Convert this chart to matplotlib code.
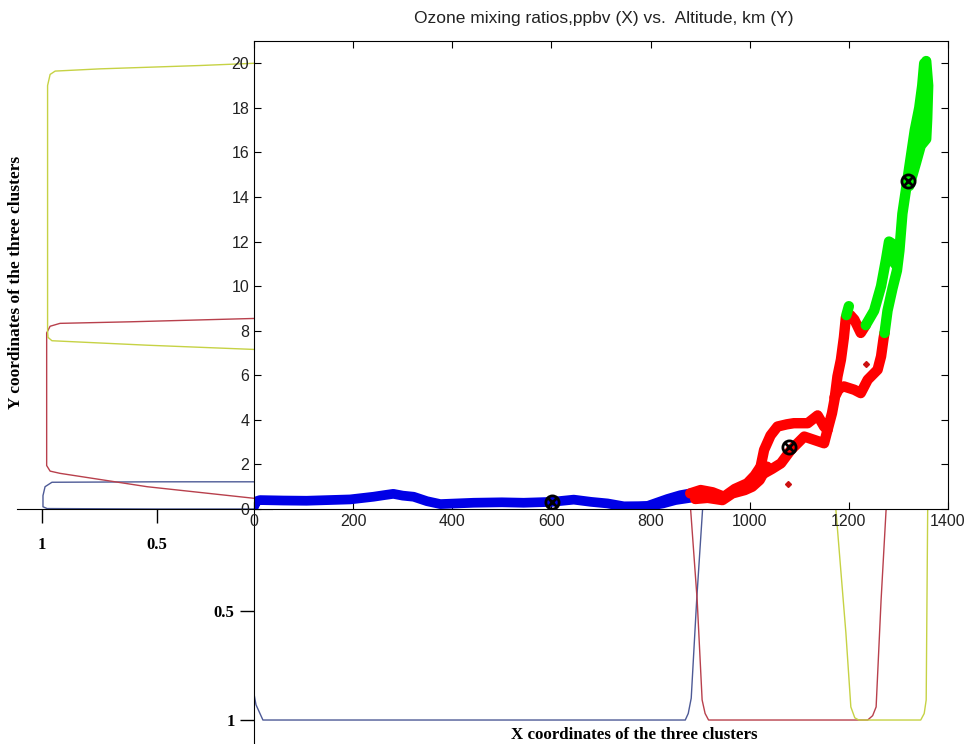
import numpy as np
import matplotlib
matplotlib.use("Agg")
import matplotlib.pyplot as plt

# ---- scatter clusters (ozone ppbv, altitude km) ----
blue_x = [0, 5, 12, 60, 106, 150, 194, 241, 262, 281, 300, 322, 349, 376, 443, 500, 544, 601, 645, 680, 713, 746, 793, 834, 860, 885]
blue_y = [0.1, 0.35, 0.4, 0.38, 0.37, 0.4, 0.43, 0.55, 0.62, 0.68, 0.6, 0.55, 0.35, 0.22, 0.28, 0.3, 0.28, 0.32, 0.42, 0.32, 0.25, 0.12, 0.13, 0.45, 0.62, 0.72]
blue2_x = [770, 800, 825, 850, 880]
blue2_y = [0.08, 0.15, 0.25, 0.4, 0.5]

red1_x = [880, 901, 925, 948, 970, 995, 1010, 1022, 1029, 1042, 1056, 1075, 1089, 1117, 1137, 1150, 1157, 1166, 1171, 1177, 1184, 1190, 1194, 1203, 1211, 1224, 1234]
red1_y = [0.7, 0.85, 0.75, 0.55, 0.9, 1.15, 1.5, 1.9, 2.65, 3.3, 3.7, 3.8, 3.85, 3.85, 4.2, 3.7, 3.55, 4.3, 4.9, 5.95, 6.7, 7.7, 8.6, 8.7, 8.5, 7.9, 8.25]
red2_x = [1022, 1029, 1045, 1063, 1083, 1110, 1130, 1150, 1157]
red2_y = [1.9, 1.6, 1.8, 2.05, 2.65, 3.25, 3.1, 2.95, 3.55]
red3_x = [1171, 1180, 1190, 1211, 1224, 1238, 1258, 1265, 1270, 1272]
red3_y = [5.0, 5.4, 5.5, 5.35, 5.2, 5.8, 6.25, 6.85, 7.65, 7.9]
red4_x = [890, 915, 945, 965, 990, 1005, 1020, 1035]
red4_y = [0.45, 0.5, 0.4, 0.7, 0.85, 1.0, 1.3, 1.9]
red_out_x = [1077, 1234]
red_out_y = [1.1, 6.5]

green1_x = [1234, 1251, 1265, 1275, 1281, 1288, 1293]
green1_y = [8.25, 8.9, 10.0, 11.2, 12.0, 11.9, 11.0]
green2_x = [1272, 1278, 1288, 1297, 1302, 1308, 1318, 1325, 1333, 1342, 1348, 1352]
green2_y = [7.9, 8.9, 9.9, 10.7, 11.6, 13.25, 14.75, 15.8, 17.0, 18.0, 19.0, 20.0]
green3_x = [1322, 1335, 1345, 1356, 1358, 1360, 1356]
green3_y = [14.5, 15.5, 16.3, 16.6, 17.5, 19.0, 20.1]
green4_x = [1195, 1200]
green4_y = [8.7, 9.1]
green5_x = [1328, 1340, 1350, 1354]
green5_y = [16.0, 17.0, 18.0, 19.5]

cent_x = [601, 1080, 1320]
cent_y = [0.32, 2.77, 14.7]

# ---- membership curves along Y (membership, altitude) ----
mblue_y_m = [0.0, 0.078, 0.5, 0.957, 0.987, 0.996, 0.996, 0.978, 0.5, 0.0]
mblue_y_v = [1.22, 1.22, 1.22, 1.2, 1.0, 0.6, 0.1, 0.02, 0.0, 0.0]
mred_y_m = [0.0, 0.078, 0.543, 0.922, 0.965, 0.98, 0.98, 0.965, 0.922, 0.617, 0.078, 0.0]
mred_y_v = [0.35, 0.48, 1.0, 1.6, 1.7, 1.95, 7.9, 8.2, 8.33, 8.4, 8.55, 8.6]
mylw_y_m = [0.0, 0.078, 0.543, 0.957, 0.974, 0.976, 0.976, 0.965, 0.943, 0.748, 0.313, 0.078, 0.0]
mylw_y_v = [7.1, 7.16, 7.35, 7.55, 7.7, 8.0, 19.0, 19.5, 19.65, 19.75, 19.9, 20.0, 20.05]

# ---- membership curves along X (ozone, membership) ----
mblue_x_o = [0, 4, 18, 870, 876, 882, 893, 905, 910]
mblue_x_v = [0.88, 0.93, 1.0, 1.0, 0.97, 0.9, 0.45, 0.03, 0.0]
mred_x_o = [879, 881, 894, 904, 910, 917, 1100, 1238, 1248, 1255, 1265, 1275, 1277]
mred_x_v = [0.0, 0.04, 0.45, 0.908, 0.97, 1.0, 1.0, 1.0, 0.98, 0.94, 0.45, 0.04, 0.0]
mylw_x_o = [1172, 1174, 1194, 1204, 1212, 1220, 1345, 1352, 1356, 1359, 1360]
mylw_x_v = [0.0, 0.04, 0.6, 0.94, 0.99, 1.0, 1.0, 0.97, 0.908, 0.04, 0.0]

W, H = 967, 744
def rect(x0, y0, x1, y1):
    return [x0 / W, 1 - y1 / H, (x1 - x0) / W, (y1 - y0) / H]

serif_bold = dict(family=["Liberation Serif", "DejaVu Serif"], weight="bold")
sans = ["Liberation Sans", "DejaVu Sans"]

fig = plt.figure(figsize=(9.67, 7.44), dpi=100)

c_blue_m = "#4d5a96"
c_red_m = "#b8404c"
c_ylw_m = "#c6d244"

# left panel: membership of Y
axl = fig.add_axes(rect(17, 41, 272, 509))
axl.set_facecolor("none")
axl.plot(mblue_y_m, mblue_y_v, color=c_blue_m, lw=1)
axl.plot(mred_y_m, mred_y_v, color=c_red_m, lw=1)
axl.plot(mylw_y_m, mylw_y_v, color=c_ylw_m, lw=1)
axl.set_xlim(1.109, 0)
axl.set_ylim(0, 21)
for s in ["top", "right", "left"]:
    axl.spines[s].set_visible(False)
axl.set_yticks([])
axl.set_xticks([1, 0.5])
axl.set_xticklabels(["1", "0.5"], fontsize=12, **serif_bold)
axl.tick_params(axis="x", direction="out", length=10, width=1, pad=10)

# bottom panel: membership of X
axb = fig.add_axes(rect(254, 502, 948, 744))
axb.set_facecolor("none")
axb.plot(mblue_x_o, mblue_x_v, color=c_blue_m, lw=1)
axb.plot(mred_x_o, mred_x_v, color=c_red_m, lw=1)
axb.plot(mylw_x_o, mylw_x_v, color=c_ylw_m, lw=1)
axb.set_xlim(0, 1400)
axb.set_ylim(1.110, 0)
for s in ["top", "right", "bottom"]:
    axb.spines[s].set_visible(False)
axb.set_xticks([])
axb.set_yticks([0.5, 1])
axb.set_yticklabels(["0.5", "1"], fontsize=12, **serif_bold)
axb.tick_params(axis="y", direction="out", length=10, width=1, pad=4)

# main scatter axes
ax = fig.add_axes(rect(254, 41, 948, 509))
ax.set_facecolor("white")
band = dict(solid_joinstyle="round", solid_capstyle="round")
ax.plot(blue_x, blue_y, color="#0000e6", lw=7, **band)
ax.plot(blue2_x, blue2_y, color="#0000e6", lw=7, **band)
for rx, ry in [(red1_x, red1_y), (red2_x, red2_y), (red3_x, red3_y), (red4_x, red4_y)]:
    ax.plot(rx, ry, color="#ff0000", lw=7.5, **band)
ax.plot(red_out_x, red_out_y, "D", color="#cc1010", ms=3, ls="none")
for gx, gy in [(green1_x, green1_y), (green2_x, green2_y), (green3_x, green3_y),
               (green4_x, green4_y), (green5_x, green5_y)]:
    ax.plot(gx, gy, color="#00ee00", lw=7.5, **band)
ax.plot(cent_x, cent_y, "o", mfc="none", mec="black", mew=2, ms=9.5)
ax.plot(cent_x, cent_y, "x", color="black", mew=2, ms=7)
ax.set_xlim(0, 1400)
ax.set_ylim(0, 21)
ax.set_xticks(np.arange(0, 1401, 200))
ax.set_yticks(np.arange(0, 21, 2))
ax.tick_params(direction="in", top=True, right=True, length=5, width=0.8, labelsize=11.5)
for lab in ax.get_xticklabels() + ax.get_yticklabels():
    lab.set_family(sans)
    lab.set_color("#222222")

fig.text(604 / W, 1 - 19 / H, "Ozone mixing ratios,ppbv (X) vs.  Altitude, km (Y)",
         ha="center", va="center", fontsize=12.5, family=sans, color="#222222")
fig.text(16 / W, 1 - 282 / H, "Y coordinates of the three clusters", rotation=90,
         ha="center", va="center", fontsize=12.5, **serif_bold)
fig.text(634 / W, 1 - 735 / H, "X coordinates of the three clusters",
         ha="center", va="center", fontsize=12.2, **serif_bold)

fig.savefig("out.png", dpi=100)
